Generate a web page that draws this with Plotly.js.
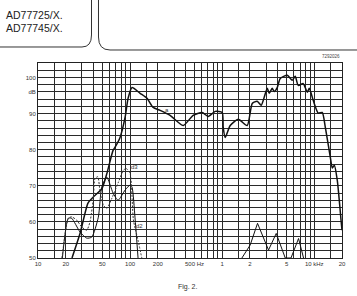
<!DOCTYPE html>
<html>
<head>
<meta charset="utf-8">
<script src="https://cdn.plot.ly/plotly-3.0.1.min.js"></script>
<style>html,body{margin:0;padding:0;background:#fff;}#chart{width:357px;height:296px;}</style>
</head>
<body>
<div id="chart"></div>
<script>
// Main SPL response (Hz, dB)
const mainFreq = [23.4, 28.7, 34.9, 39.6, 49.6, 56.1, 65.3, 68.7, 77.8, 88.3, 95.1, 105, 128.5, 153, 178, 212, 272, 377, 484, 606, 705, 840, 1000, 1026, 1080, 1222, 1493, 1870, 2120, 2400, 2655, 3085, 3240, 3490, 3670, 3960, 4270, 5090, 5770, 6210, 6700, 7590, 8390, 8830, 9750, 11050, 12200, 13180, 14930, 15700, 16500, 17780, 19650, 20000];
const mainDb   = [50, 56.9, 65.2, 66.8, 69.3, 73.5, 79.8, 80.7, 83.4, 89, 94.2, 97.2, 95.6, 94.2, 91.7, 90.9, 89.5, 86.7, 89.5, 90.3, 89.2, 90.6, 90.3, 86.2, 83.4, 86.7, 88.4, 86.7, 92.8, 93.4, 92.3, 97.0, 95.6, 97.0, 96.1, 97.2, 99.7, 100.6, 99.2, 100.3, 97.8, 98.3, 95.9, 97.0, 93.6, 90.1, 90.3, 86.2, 77.9, 74.9, 75.7, 71.5, 59.7, 57.7];

// Second harmonic distortion, low frequencies (solid)
const d2Freq = [18.4, 21.3, 23.2, 28.6, 33.8, 38.4, 45.2, 49.2, 55.8, 65.3, 74.1, 88.2, 100, 105, 113, 122];
const d2Db   = [50, 61, 61, 57.2, 55.5, 55.8, 61.3, 69.6, 72.4, 68, 66, 68.8, 70.2, 69.6, 61.3, 50];

// Third harmonic distortion, low frequencies (dashed)
const d3Freq = [18.2, 21.4, 23.2, 26.3, 29.8, 33.8, 36.7, 39.9, 41.6, 44.6, 47.2, 51.3, 55.8, 63.3, 74.7, 84.6, 90.5, 100, 108.7, 123, 134];
const d3Db   = [50, 61, 61.4, 60.5, 58.6, 57.7, 60, 66.5, 72, 72.5, 68.3, 64.6, 63.7, 66.5, 71, 74.3, 74.8, 73.4, 60.5, 54.5, 50];

// Distortion, high frequencies (solid)
const hfFreq = [1637, 2014, 2420, 3186, 3862, 4840, 5585, 6750, 7650];
const hfDb   = [50, 53.6, 59.6, 52.2, 56.8, 50, 50, 55.4, 50];

// Axis ticks / gridlines
const xGrid = [10,15,20,30,40,50,60,70,80,90,100,150,200,300,400,500,600,700,800,900,1000,1500,2000,3000,4000,5000,6000,7000,8000,9000,10000,15000,20000];
const xLabelVals = [10, 20, 50, 100, 200, 500, 1000, 2000, 5000, 10000, 20000];
const xLabelText = ['10', '20', '50', '100', '200', '500 Hz', '1', '2', '5', '10 kHz', '20'];
const yGrid = [50,52,54,56,58,60,62,64,66,68,70,72,74,76,78,80,82,84,86,88,90,92,94,96,98,100,102,104];
const yLabelVals = [50, 60, 70, 80, 90, 96, 100];
const yLabelText = ['50', '60', '70', '80', '90', 'dB', '100'];

const xText = xGrid.map(v => { const i = xLabelVals.indexOf(v); return i >= 0 ? xLabelText[i] : ''; });
const yText = yGrid.map(v => { const i = yLabelVals.indexOf(v); return i >= 0 ? yLabelText[i] : ''; });

const ink = '#111';
const traces = [
  {x: mainFreq, y: mainDb, mode: 'lines', line: {color: ink, width: 1.5, shape: 'spline', smoothing: 0.6}, hoverinfo: 'skip'},
  {x: d2Freq, y: d2Db, mode: 'lines', line: {color: ink, width: 1, shape: 'spline', smoothing: 0.6}, hoverinfo: 'skip'},
  {x: d3Freq, y: d3Db, mode: 'lines', line: {color: '#333', width: 1, dash: '2px,1.5px', shape: 'spline', smoothing: 0.6}, hoverinfo: 'skip'},
  {x: hfFreq, y: hfDb, mode: 'lines', line: {color: ink, width: 1}, hoverinfo: 'skip'}
];

const fam = 'Liberation Sans, Arial, sans-serif';
const font = {family: fam, size: 6, color: '#333333'};

const layout = {
  width: 357, height: 296,
  margin: {l: 38, r: 15, t: 63, b: 38, pad: 0},
  paper_bgcolor: '#ffffff', plot_bgcolor: '#ffffff',
  showlegend: false,
  font: font,
  xaxis: {
    type: 'log', range: [1, Math.log10(20000)],
    tickmode: 'array', tickvals: xGrid, ticktext: xText,
    showgrid: true, gridcolor: '#2a2a2a', gridwidth: 1,
    showline: true, mirror: true, linecolor: '#222', linewidth: 1,
    ticks: '', zeroline: false, tickfont: font, tickangle: 0
  },
  yaxis: {
    range: [50, 104],
    tickmode: 'array', tickvals: yGrid, ticktext: yText,
    showgrid: true, gridcolor: '#2a2a2a', gridwidth: 1,
    showline: true, mirror: true, linecolor: '#222', linewidth: 1,
    ticks: '', zeroline: false, tickfont: font
  },
  annotations: [
    {xref: 'paper', yref: 'paper', x: -0.112, y: 1.246, xanchor: 'left', yanchor: 'middle', showarrow: false,
     text: 'AD77725/X.', font: {family: fam, size: 10.5, color: '#222'}},
    {xref: 'paper', yref: 'paper', x: -0.112, y: 1.180, xanchor: 'left', yanchor: 'middle', showarrow: false,
     text: 'AD77745/X.', font: {family: fam, size: 10.5, color: '#222'}},
    {xref: 'paper', yref: 'paper', x: 1, y: 1.012, xanchor: 'right', yanchor: 'bottom', showarrow: false,
     text: '7292026', font: {family: fam, size: 4.5, color: '#444'}},
    {xref: 'paper', yref: 'paper', x: 0.454, y: -0.15, xanchor: 'left', yanchor: 'middle', showarrow: false,
     text: 'Fig. 2.', font: {family: fam, size: 7, color: '#333'}},
    {xref: 'x', yref: 'y', x: Math.log10(250), y: 91, showarrow: false, text: 'a', font: font},
    {xref: 'x', yref: 'y', x: Math.log10(112), y: 75.3, showarrow: false, text: 'd3', font: font},
    {xref: 'x', yref: 'y', x: Math.log10(126), y: 58.9, showarrow: false, text: 'd2', font: font}
  ],
  shapes: [
    {type: 'path', xref: 'paper', yref: 'paper', line: {color: '#333', width: 1},
     path: 'M -0.13 1.0821 L 0.1447 1.0821 Q 0.176 1.0821 0.176 1.1436 L 0.176 1.33'},
    {type: 'path', xref: 'paper', yref: 'paper', line: {color: '#333', width: 1},
     path: 'M 0.199 1.33 L 0.199 1.1333 Q 0.199 1.0667 0.2368 1.0667 L 1.06 1.0667'}
  ]
};

Plotly.newPlot('chart', traces, layout, {staticPlot: true, displayModeBar: false});
</script>
</body>
</html>
